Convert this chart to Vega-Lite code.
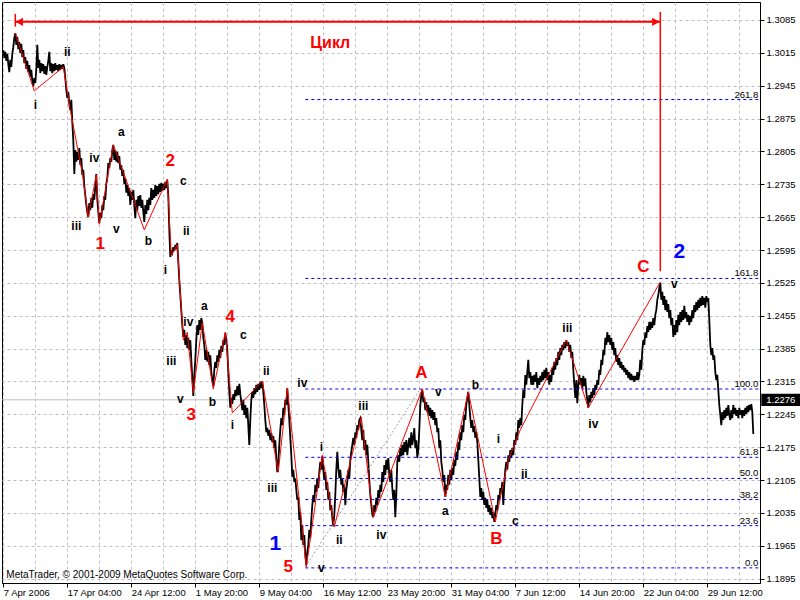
{
"$schema":"https://vega.github.io/schema/vega-lite/v6.json",
"width":758,"height":581,
"autosize":{"type":"none"},
"padding":{"left":2,"top":2,"right":40,"bottom":17},
"background":"white",
"config":{"view":{"stroke":"black","strokeWidth":1}},
"datasets":{
"price":[
{"i":0,"p":1.3021},{"i":1,"p":1.3004},{"i":2,"p":1.3017},{"i":3,"p":1.2998},{"i":4,"p":1.3013},{"i":5,"p":1.2991},{"i":6,"p":1.2974},{"i":7,"p":1.3000},{"i":8,"p":1.2985},{"i":9,"p":1.3013},
{"i":10,"p":1.3027},{"i":11,"p":1.3047},{"i":12,"p":1.3057},{"i":13,"p":1.3032},{"i":14,"p":1.3049},{"i":15,"p":1.3023},{"i":16,"p":1.3038},{"i":17,"p":1.3015},{"i":18,"p":1.3034},{"i":19,"p":1.3006},
{"i":20,"p":1.3021},{"i":21,"p":1.2993},{"i":22,"p":1.3006},{"i":23,"p":1.2981},{"i":24,"p":1.2998},{"i":25,"p":1.2974},{"i":26,"p":1.2989},{"i":27,"p":1.2964},{"i":28,"p":1.2979},{"i":29,"p":1.2955},
{"i":30,"p":1.2944},{"i":31,"p":1.2961},{"i":32,"p":1.2951},{"i":33,"p":1.2979},{"i":34,"p":1.3032},{"i":35,"p":1.2983},{"i":36,"p":1.3000},{"i":37,"p":1.2972},{"i":38,"p":1.2993},{"i":39,"p":1.2976},
{"i":40,"p":1.2991},{"i":41,"p":1.2970},{"i":42,"p":1.2987},{"i":43,"p":1.2968},{"i":44,"p":1.2985},{"i":45,"p":1.2998},{"i":46,"p":1.3017},{"i":47,"p":1.2976},{"i":48,"p":1.2993},{"i":49,"p":1.2972},
{"i":50,"p":1.2991},{"i":51,"p":1.2976},{"i":52,"p":1.2993},{"i":53,"p":1.2979},{"i":54,"p":1.2989},{"i":55,"p":1.2976},{"i":56,"p":1.2991},{"i":57,"p":1.2979},{"i":58,"p":1.2989},{"i":59,"p":1.2981},
{"i":60,"p":1.2991},{"i":61,"p":1.2983},{"i":62,"p":1.2961},{"i":63,"p":1.2936},{"i":64,"p":1.2919},{"i":65,"p":1.2932},{"i":66,"p":1.2906},{"i":67,"p":1.2893},{"i":68,"p":1.2915},{"i":69,"p":1.2868},
{"i":70,"p":1.2829},{"i":71,"p":1.2757},{"i":72,"p":1.2808},{"i":73,"p":1.2783},{"i":74,"p":1.2804},{"i":75,"p":1.2787},{"i":76,"p":1.2812},{"i":77,"p":1.2776},{"i":78,"p":1.2791},{"i":79,"p":1.2755},
{"i":80,"p":1.2766},{"i":81,"p":1.2731},{"i":82,"p":1.2712},{"i":83,"p":1.2691},{"i":84,"p":1.2676},{"i":85,"p":1.2665},{"i":86,"p":1.2695},{"i":87,"p":1.2680},{"i":88,"p":1.2706},{"i":89,"p":1.2685},
{"i":90,"p":1.2714},{"i":91,"p":1.2702},{"i":92,"p":1.2731},{"i":93,"p":1.2757},{"i":94,"p":1.2702},{"i":95,"p":1.2676},{"i":96,"p":1.2653},{"i":97,"p":1.2674},{"i":98,"p":1.2663},{"i":99,"p":1.2691},
{"i":100,"p":1.2680},{"i":101,"p":1.2710},{"i":102,"p":1.2702},{"i":103,"p":1.2736},{"i":104,"p":1.2748},{"i":105,"p":1.2780},{"i":106,"p":1.2770},{"i":107,"p":1.2791},{"i":108,"p":1.2783},{"i":109,"p":1.2808},
{"i":110,"p":1.2819},{"i":111,"p":1.2787},{"i":112,"p":1.2808},{"i":113,"p":1.2783},{"i":114,"p":1.2804},{"i":115,"p":1.2780},{"i":116,"p":1.2795},{"i":117,"p":1.2766},{"i":118,"p":1.2776},{"i":119,"p":1.2753},
{"i":120,"p":1.2766},{"i":121,"p":1.2736},{"i":122,"p":1.2748},{"i":123,"p":1.2717},{"i":124,"p":1.2734},{"i":125,"p":1.2710},{"i":126,"p":1.2727},{"i":127,"p":1.2691},{"i":128,"p":1.2719},{"i":129,"p":1.2702},
{"i":130,"p":1.2723},{"i":131,"p":1.2689},{"i":132,"p":1.2663},{"i":133,"p":1.2702},{"i":134,"p":1.2680},{"i":135,"p":1.2710},{"i":136,"p":1.2689},{"i":137,"p":1.2712},{"i":138,"p":1.2685},{"i":139,"p":1.2702},
{"i":140,"p":1.2676},{"i":141,"p":1.2655},{"i":142,"p":1.2691},{"i":143,"p":1.2672},{"i":144,"p":1.2702},{"i":145,"p":1.2680},{"i":146,"p":1.2706},{"i":147,"p":1.2691},{"i":148,"p":1.2727},{"i":149,"p":1.2702},
{"i":150,"p":1.2723},{"i":151,"p":1.2706},{"i":152,"p":1.2734},{"i":153,"p":1.2710},{"i":154,"p":1.2731},{"i":155,"p":1.2714},{"i":156,"p":1.2736},{"i":157,"p":1.2719},{"i":158,"p":1.2738},{"i":159,"p":1.2721},
{"i":160,"p":1.2736},{"i":161,"p":1.2723},{"i":162,"p":1.2740},{"i":163,"p":1.2727},{"i":164,"p":1.2744},{"i":165,"p":1.2712},{"i":166,"p":1.2638},{"i":167,"p":1.2580},{"i":168,"p":1.2595},{"i":169,"p":1.2589},
{"i":170,"p":1.2601},{"i":171,"p":1.2593},{"i":172,"p":1.2606},{"i":173,"p":1.2597},{"i":174,"p":1.2610},{"i":175,"p":1.2570},{"i":176,"p":1.2531},{"i":177,"p":1.2499},{"i":178,"p":1.2467},{"i":179,"p":1.2435},
{"i":180,"p":1.2410},{"i":181,"p":1.2425},{"i":182,"p":1.2393},{"i":183,"p":1.2414},{"i":184,"p":1.2386},{"i":185,"p":1.2408},{"i":186,"p":1.2382},{"i":187,"p":1.2403},{"i":188,"p":1.2361},{"i":189,"p":1.2322},
{"i":190,"p":1.2284},{"i":191,"p":1.2329},{"i":192,"p":1.2361},{"i":193,"p":1.2403},{"i":194,"p":1.2435},{"i":195,"p":1.2414},{"i":196,"p":1.2446},{"i":197,"p":1.2425},{"i":198,"p":1.2450},{"i":199,"p":1.2440},
{"i":200,"p":1.2408},{"i":201,"p":1.2393},{"i":202,"p":1.2361},{"i":203,"p":1.2382},{"i":204,"p":1.2357},{"i":205,"p":1.2378},{"i":206,"p":1.2350},{"i":207,"p":1.2371},{"i":208,"p":1.2335},{"i":209,"p":1.2318},
{"i":210,"p":1.2305},{"i":211,"p":1.2340},{"i":212,"p":1.2357},{"i":213,"p":1.2344},{"i":214,"p":1.2371},{"i":215,"p":1.2357},{"i":216,"p":1.2382},{"i":217,"p":1.2365},{"i":218,"p":1.2391},{"i":219,"p":1.2378},
{"i":220,"p":1.2403},{"i":221,"p":1.2393},{"i":222,"p":1.2418},{"i":223,"p":1.2403},{"i":224,"p":1.2382},{"i":225,"p":1.2335},{"i":226,"p":1.2293},{"i":227,"p":1.2259},{"i":228,"p":1.2280},{"i":229,"p":1.2267},
{"i":230,"p":1.2288},{"i":231,"p":1.2276},{"i":232,"p":1.2297},{"i":233,"p":1.2284},{"i":234,"p":1.2305},{"i":235,"p":1.2286},{"i":236,"p":1.2310},{"i":237,"p":1.2288},{"i":239,"p":1.2254},
{"i":240,"p":1.2276},{"i":241,"p":1.2244},{"i":242,"p":1.2265},{"i":243,"p":1.2237},{"i":244,"p":1.2259},{"i":245,"p":1.2222},{"i":246,"p":1.2180},{"i":247,"p":1.2233},{"i":248,"p":1.2276},{"i":249,"p":1.2293},
{"i":250,"p":1.2280},{"i":251,"p":1.2301},{"i":252,"p":1.2288},{"i":253,"p":1.2308},{"i":254,"p":1.2293},{"i":255,"p":1.2310},{"i":256,"p":1.2297},{"i":257,"p":1.2314},{"i":258,"p":1.2301},{"i":259,"p":1.2316},
{"i":260,"p":1.2293},{"i":261,"p":1.2265},{"i":262,"p":1.2233},{"i":263,"p":1.2207},{"i":264,"p":1.2216},{"i":265,"p":1.2199},{"i":266,"p":1.2212},{"i":267,"p":1.2190},{"i":268,"p":1.2205},{"i":269,"p":1.2186},
{"i":270,"p":1.2199},{"i":271,"p":1.2173},{"i":272,"p":1.2190},{"i":273,"p":1.2152},{"i":274,"p":1.2122},{"i":275,"p":1.2144},{"i":276,"p":1.2180},{"i":277,"p":1.2212},{"i":278,"p":1.2237},{"i":279,"p":1.2222},
{"i":280,"p":1.2259},{"i":281,"p":1.2244},{"i":282,"p":1.2276},{"i":283,"p":1.2265},{"i":284,"p":1.2301},{"i":285,"p":1.2265},{"i":286,"p":1.2233},{"i":287,"p":1.2195},{"i":288,"p":1.2158},{"i":289,"p":1.2112},
{"i":290,"p":1.2127},{"i":291,"p":1.2101},{"i":292,"p":1.2109},{"i":293,"p":1.2084},{"i":294,"p":1.2063},{"i":295,"p":1.2069},{"i":296,"p":1.2020},{"i":297,"p":1.2037},{"i":298,"p":1.1977},{"i":299,"p":1.2009},
{"i":300,"p":1.1967},{"i":301,"p":1.1988},{"i":302,"p":1.1945},{"i":303,"p":1.1924},{"i":304,"p":1.1952},{"i":305,"p":1.1967},{"i":306,"p":1.1999},{"i":307,"p":1.1982},{"i":308,"p":1.2020},{"i":309,"p":1.2052},
{"i":310,"p":1.2073},{"i":311,"p":1.2058},{"i":312,"p":1.2095},{"i":313,"p":1.2080},{"i":314,"p":1.2109},{"i":315,"p":1.2088},{"i":316,"p":1.2122},{"i":317,"p":1.2144},{"i":318,"p":1.2127},{"i":319,"p":1.2156},
{"i":320,"p":1.2127},{"i":321,"p":1.2105},{"i":322,"p":1.2122},{"i":323,"p":1.2084},{"i":324,"p":1.2101},{"i":325,"p":1.2063},{"i":326,"p":1.2080},{"i":327,"p":1.2041},{"i":328,"p":1.2052},{"i":329,"p":1.2024},
{"i":330,"p":1.2007},{"i":331,"p":1.2031},{"i":332,"p":1.2073},{"i":333,"p":1.2127},{"i":334,"p":1.2165},{"i":335,"p":1.2131},{"i":336,"p":1.2109},{"i":337,"p":1.2127},{"i":338,"p":1.2095},{"i":339,"p":1.2109},
{"i":340,"p":1.2080},{"i":341,"p":1.2095},{"i":342,"p":1.2052},{"i":343,"p":1.2084},{"i":344,"p":1.2101},{"i":345,"p":1.2127},{"i":346,"p":1.2109},{"i":347,"p":1.2148},{"i":348,"p":1.2165},{"i":349,"p":1.2180},
{"i":350,"p":1.2195},{"i":351,"p":1.2180},{"i":352,"p":1.2207},{"i":353,"p":1.2195},{"i":354,"p":1.2222},{"i":355,"p":1.2212},{"i":356,"p":1.2233},{"i":357,"p":1.2237},{"i":358,"p":1.2212},{"i":359,"p":1.2190},
{"i":360,"p":1.2212},{"i":361,"p":1.2169},{"i":362,"p":1.2190},{"i":363,"p":1.2158},{"i":364,"p":1.2180},{"i":365,"p":1.2144},{"i":366,"p":1.2105},{"i":367,"p":1.2073},{"i":368,"p":1.2052},{"i":369,"p":1.2031},
{"i":370,"p":1.2026},{"i":371,"p":1.2052},{"i":372,"p":1.2037},{"i":373,"p":1.2067},{"i":374,"p":1.2052},{"i":375,"p":1.2084},{"i":376,"p":1.2067},{"i":377,"p":1.2095},{"i":378,"p":1.2080},{"i":379,"p":1.2122},
{"i":380,"p":1.2101},{"i":381,"p":1.2137},{"i":382,"p":1.2116},{"i":383,"p":1.2148},{"i":384,"p":1.2127},{"i":385,"p":1.2152},{"i":386,"p":1.2116},{"i":387,"p":1.2101},{"i":388,"p":1.2127},{"i":389,"p":1.2088},
{"i":390,"p":1.2063},{"i":391,"p":1.2084},{"i":392,"p":1.2026},{"i":393,"p":1.2073},{"i":394,"p":1.2144},{"i":395,"p":1.2158},{"i":396,"p":1.2144},{"i":397,"p":1.2173},{"i":398,"p":1.2156},{"i":399,"p":1.2180},
{"i":400,"p":1.2158},{"i":401,"p":1.2186},{"i":402,"p":1.2165},{"i":403,"p":1.2190},{"i":404,"p":1.2158},{"i":405,"p":1.2180},{"i":406,"p":1.2195},{"i":407,"p":1.2173},{"i":408,"p":1.2207},{"i":409,"p":1.2180},
{"i":410,"p":1.2195},{"i":411,"p":1.2216},{"i":412,"p":1.2173},{"i":413,"p":1.2190},{"i":414,"p":1.2152},{"i":415,"p":1.2169},{"i":416,"p":1.2212},{"i":417,"p":1.2265},{"i":418,"p":1.2286},{"i":419,"p":1.2297},
{"i":420,"p":1.2271},{"i":421,"p":1.2280},{"i":422,"p":1.2254},{"i":423,"p":1.2271},{"i":424,"p":1.2250},{"i":425,"p":1.2265},{"i":426,"p":1.2242},{"i":427,"p":1.2259},{"i":428,"p":1.2237},{"i":429,"p":1.2254},
{"i":430,"p":1.2233},{"i":431,"p":1.2250},{"i":432,"p":1.2222},{"i":433,"p":1.2237},{"i":434,"p":1.2207},{"i":435,"p":1.2216},{"i":436,"p":1.2173},{"i":437,"p":1.2190},{"i":438,"p":1.2144},{"i":439,"p":1.2127},
{"i":440,"p":1.2101},{"i":441,"p":1.2116},{"i":442,"p":1.2069},{"i":443,"p":1.2095},{"i":444,"p":1.2084},{"i":445,"p":1.2116},{"i":446,"p":1.2095},{"i":447,"p":1.2127},{"i":448,"p":1.2105},{"i":449,"p":1.2131},
{"i":450,"p":1.2116},{"i":451,"p":1.2148},{"i":452,"p":1.2135},{"i":453,"p":1.2165},{"i":454,"p":1.2148},{"i":455,"p":1.2186},{"i":456,"p":1.2169},{"i":457,"p":1.2207},{"i":458,"p":1.2190},{"i":459,"p":1.2222},
{"i":460,"p":1.2207},{"i":461,"p":1.2244},{"i":462,"p":1.2233},{"i":463,"p":1.2265},{"i":464,"p":1.2280},{"i":465,"p":1.2293},{"i":466,"p":1.2265},{"i":467,"p":1.2237},{"i":468,"p":1.2216},{"i":469,"p":1.2233},
{"i":470,"p":1.2207},{"i":471,"p":1.2220},{"i":472,"p":1.2195},{"i":473,"p":1.2207},{"i":474,"p":1.2186},{"i":475,"p":1.2148},{"i":476,"p":1.2109},{"i":477,"p":1.2069},{"i":478,"p":1.2088},{"i":479,"p":1.2063},
{"i":480,"p":1.2080},{"i":481,"p":1.2052},{"i":482,"p":1.2067},{"i":483,"p":1.2046},{"i":484,"p":1.2063},{"i":485,"p":1.2037},{"i":486,"p":1.2052},{"i":487,"p":1.2031},{"i":488,"p":1.2046},{"i":489,"p":1.2024},
{"i":490,"p":1.2037},{"i":491,"p":1.2016},{"i":492,"p":1.2031},{"i":493,"p":1.2052},{"i":494,"p":1.2041},{"i":495,"p":1.2073},{"i":496,"p":1.2063},{"i":497,"p":1.2088},{"i":498,"p":1.2080},{"i":499,"p":1.2101},
{"i":500,"p":1.2052},{"i":501,"p":1.2095},{"i":502,"p":1.2127},{"i":503,"p":1.2144},{"i":504,"p":1.2127},{"i":505,"p":1.2158},{"i":506,"p":1.2144},{"i":507,"p":1.2169},{"i":508,"p":1.2152},{"i":509,"p":1.2173},
{"i":510,"p":1.2158},{"i":511,"p":1.2190},{"i":512,"p":1.2180},{"i":513,"p":1.2207},{"i":514,"p":1.2190},{"i":515,"p":1.2233},{"i":516,"p":1.2216},{"i":517,"p":1.2237},{"i":518,"p":1.2222},{"i":519,"p":1.2265},
{"i":520,"p":1.2297},{"i":521,"p":1.2280},{"i":522,"p":1.2329},{"i":523,"p":1.2308},{"i":524,"p":1.2335},{"i":525,"p":1.2361},{"i":526,"p":1.2322},{"i":527,"p":1.2335},{"i":528,"p":1.2308},{"i":529,"p":1.2327},
{"i":530,"p":1.2308},{"i":531,"p":1.2329},{"i":532,"p":1.2314},{"i":533,"p":1.2335},{"i":534,"p":1.2301},{"i":535,"p":1.2322},{"i":536,"p":1.2308},{"i":537,"p":1.2327},{"i":538,"p":1.2314},{"i":539,"p":1.2335},
{"i":540,"p":1.2318},{"i":541,"p":1.2340},{"i":542,"p":1.2322},{"i":543,"p":1.2344},{"i":544,"p":1.2318},{"i":545,"p":1.2335},{"i":546,"p":1.2308},{"i":547,"p":1.2329},{"i":548,"p":1.2314},{"i":549,"p":1.2344},
{"i":550,"p":1.2329},{"i":551,"p":1.2357},{"i":552,"p":1.2340},{"i":553,"p":1.2365},{"i":554,"p":1.2350},{"i":555,"p":1.2378},{"i":556,"p":1.2361},{"i":557,"p":1.2386},{"i":558,"p":1.2371},{"i":559,"p":1.2393},
{"i":560,"p":1.2382},{"i":561,"p":1.2399},{"i":562,"p":1.2386},{"i":563,"p":1.2403},{"i":564,"p":1.2391},{"i":565,"p":1.2399},{"i":566,"p":1.2378},{"i":567,"p":1.2393},{"i":568,"p":1.2365},{"i":569,"p":1.2378},
{"i":570,"p":1.2340},{"i":571,"p":1.2308},{"i":572,"p":1.2280},{"i":573,"p":1.2318},{"i":574,"p":1.2269},{"i":575,"p":1.2308},{"i":576,"p":1.2329},{"i":577,"p":1.2308},{"i":578,"p":1.2322},{"i":579,"p":1.2301},
{"i":580,"p":1.2327},{"i":581,"p":1.2305},{"i":582,"p":1.2322},{"i":583,"p":1.2293},{"i":584,"p":1.2276},{"i":585,"p":1.2259},{"i":586,"p":1.2286},{"i":587,"p":1.2271},{"i":588,"p":1.2293},{"i":589,"p":1.2280},
{"i":590,"p":1.2301},{"i":591,"p":1.2286},{"i":592,"p":1.2308},{"i":593,"p":1.2297},{"i":594,"p":1.2318},{"i":595,"p":1.2308},{"i":596,"p":1.2340},{"i":597,"p":1.2329},{"i":598,"p":1.2361},{"i":599,"p":1.2350},
{"i":600,"p":1.2382},{"i":601,"p":1.2371},{"i":602,"p":1.2408},{"i":603,"p":1.2393},{"i":604,"p":1.2420},{"i":605,"p":1.2399},{"i":606,"p":1.2414},{"i":607,"p":1.2393},{"i":608,"p":1.2408},{"i":609,"p":1.2382},
{"i":610,"p":1.2399},{"i":611,"p":1.2371},{"i":612,"p":1.2386},{"i":613,"p":1.2357},{"i":614,"p":1.2371},{"i":615,"p":1.2350},{"i":616,"p":1.2365},{"i":617,"p":1.2344},{"i":618,"p":1.2357},{"i":619,"p":1.2340},
{"i":620,"p":1.2350},{"i":621,"p":1.2335},{"i":622,"p":1.2344},{"i":623,"p":1.2329},{"i":624,"p":1.2340},{"i":625,"p":1.2322},{"i":626,"p":1.2335},{"i":627,"p":1.2318},{"i":628,"p":1.2331},{"i":629,"p":1.2318},
{"i":630,"p":1.2327},{"i":631,"p":1.2314},{"i":632,"p":1.2327},{"i":633,"p":1.2318},{"i":634,"p":1.2335},{"i":635,"p":1.2318},{"i":636,"p":1.2329},{"i":637,"p":1.2361},{"i":638,"p":1.2340},{"i":639,"p":1.2382},
{"i":640,"p":1.2403},{"i":641,"p":1.2393},{"i":642,"p":1.2420},{"i":643,"p":1.2408},{"i":644,"p":1.2433},{"i":645,"p":1.2420},{"i":646,"p":1.2442},{"i":647,"p":1.2425},{"i":648,"p":1.2442},{"i":649,"p":1.2429},
{"i":650,"p":1.2450},{"i":651,"p":1.2435},{"i":652,"p":1.2457},{"i":653,"p":1.2467},{"i":654,"p":1.2489},{"i":655,"p":1.2499},{"i":656,"p":1.2514},{"i":657,"p":1.2525},{"i":658,"p":1.2489},{"i":659,"p":1.2506},
{"i":660,"p":1.2478},{"i":661,"p":1.2497},{"i":662,"p":1.2467},{"i":663,"p":1.2489},{"i":664,"p":1.2463},{"i":665,"p":1.2480},{"i":666,"p":1.2450},{"i":667,"p":1.2467},{"i":668,"p":1.2435},{"i":669,"p":1.2450},
{"i":670,"p":1.2410},{"i":671,"p":1.2435},{"i":672,"p":1.2414},{"i":673,"p":1.2446},{"i":674,"p":1.2420},{"i":675,"p":1.2457},{"i":676,"p":1.2435},{"i":677,"p":1.2463},{"i":678,"p":1.2442},{"i":679,"p":1.2467},
{"i":680,"p":1.2446},{"i":681,"p":1.2476},{"i":682,"p":1.2450},{"i":683,"p":1.2463},{"i":684,"p":1.2442},{"i":685,"p":1.2457},{"i":686,"p":1.2435},{"i":687,"p":1.2455},{"i":688,"p":1.2442},{"i":689,"p":1.2467},
{"i":690,"p":1.2450},{"i":691,"p":1.2478},{"i":692,"p":1.2463},{"i":693,"p":1.2484},{"i":694,"p":1.2467},{"i":695,"p":1.2489},{"i":696,"p":1.2472},{"i":697,"p":1.2493},{"i":698,"p":1.2476},{"i":699,"p":1.2497},
{"i":700,"p":1.2478},{"i":701,"p":1.2493},{"i":702,"p":1.2472},{"i":703,"p":1.2497},{"i":704,"p":1.2484},{"i":705,"p":1.2493},{"i":706,"p":1.2446},{"i":707,"p":1.2393},{"i":708,"p":1.2371},{"i":709,"p":1.2386},
{"i":710,"p":1.2361},{"i":711,"p":1.2371},{"i":712,"p":1.2335},{"i":713,"p":1.2318},{"i":714,"p":1.2329},{"i":715,"p":1.2297},{"i":716,"p":1.2265},{"i":717,"p":1.2244},{"i":718,"p":1.2222},{"i":719,"p":1.2250},
{"i":720,"p":1.2233},{"i":721,"p":1.2254},{"i":722,"p":1.2237},{"i":723,"p":1.2259},{"i":724,"p":1.2242},{"i":725,"p":1.2265},{"i":726,"p":1.2244},{"i":727,"p":1.2233},{"i":728,"p":1.2254},{"i":729,"p":1.2237},
{"i":730,"p":1.2265},{"i":731,"p":1.2246},{"i":732,"p":1.2259},{"i":733,"p":1.2242},{"i":734,"p":1.2254},{"i":735,"p":1.2237},{"i":736,"p":1.2259},{"i":737,"p":1.2244},{"i":738,"p":1.2254},{"i":739,"p":1.2237},
{"i":740,"p":1.2254},{"i":741,"p":1.2242},{"i":742,"p":1.2259},{"i":743,"p":1.2246},{"i":744,"p":1.2263},{"i":745,"p":1.2250},{"i":746,"p":1.2265},{"i":747,"p":1.2254},{"i":748,"p":1.2267},{"i":749,"p":1.2250},
{"i":750,"p":1.2203}
],
"waves":[
{"i":12,"p":1.3057},{"i":31,"p":1.2934},{"i":60,"p":1.2985},{"i":67,"p":1.2893},{"i":79,"p":1.2759},{"i":85,"p":1.2665},{"i":93,"p":1.2755},{"i":96,"p":1.2650},{"i":110,"p":1.2819},{"i":141,"p":1.2638},{"i":164,"p":1.2746},{"i":168,"p":1.2584},{"i":174,"p":1.2606},{"i":180,"p":1.2403},{"i":184,"p":1.2420},{"i":190,"p":1.2291},{"i":199,"p":1.2440},{"i":210,"p":1.2299},{"i":222,"p":1.2420},{"i":229,"p":1.2248},{"i":259,"p":1.2316},{"i":275,"p":1.2122},{"i":284,"p":1.2301},{"i":303,"p":1.1920},{"i":319,"p":1.2158},{"i":331,"p":1.2005},{"i":358,"p":1.2239},{"i":370,"p":1.2026},{"i":419,"p":1.2299},{"i":442,"p":1.2069},{"i":465,"p":1.2293},{"i":492,"p":1.2016},{"i":505,"p":1.2148},{"i":517,"p":1.2212},{"i":563,"p":1.2403},{"i":585,"p":1.2259},{"i":657,"p":1.2527}
],
"trend":[{"i":302,"p":1.1920},{"i":417,"p":1.2299}],
"fib":[
{"i":302,"i2":755,"p":1.29155,"t":"261.8"},{"i":302,"i2":755,"p":1.25345,"t":"161.8"},{"i":302,"i2":755,"p":1.2299,"t":"100.0"},{"i":302,"i2":755,"p":1.21535,"t":"61.8"},{"i":302,"i2":755,"p":1.21085,"t":"50.0"},{"i":302,"i2":755,"p":1.20635,"t":"38.2"},{"i":302,"i2":755,"p":1.2008,"t":"23.6"},{"i":302,"i2":755,"p":1.1918,"t":"0.0"}
],
"lblBlack":[
{"i":32,"p":1.2904,"t":"i"},{"i":64,"p":1.3017,"t":"ii"},{"i":73,"p":1.2646,"t":"iii"},{"i":91,"p":1.2791,"t":"iv"},{"i":113,"p":1.2640,"t":"v"},{"i":118,"p":1.2846,"t":"a"},{"i":145,"p":1.2614,"t":"b"},{"i":180,"p":1.2742,"t":"c"},{"i":183,"p":1.2636,"t":"ii"},{"i":162,"p":1.2552,"t":"i"},
{"i":201,"p":1.2476,"t":"a"},{"i":185,"p":1.2442,"t":"iv"},{"i":168,"p":1.2359,"t":"iii"},{"i":177,"p":1.2278,"t":"v"},{"i":209,"p":1.2271,"t":"b"},{"i":240,"p":1.2414,"t":"c"},{"i":229,"p":1.2222,"t":"i"},{"i":263,"p":1.2337,"t":"ii"},{"i":269,"p":1.2088,"t":"iii"},{"i":299,"p":1.2312,"t":"iv"},
{"i":318,"p":1.1918,"t":"v"},{"i":318,"p":1.2175,"t":"i"},{"i":360,"p":1.2263,"t":"iii"},{"i":336,"p":1.1977,"t":"ii"},{"i":378,"p":1.1988,"t":"iv"},{"i":435,"p":1.2293,"t":"v"},{"i":472,"p":1.2308,"t":"b"},{"i":442,"p":1.2039,"t":"a"},{"i":512,"p":1.2018,"t":"c"},{"i":495,"p":1.2193,"t":"i"},
{"i":521,"p":1.2118,"t":"ii"},{"i":564,"p":1.2429,"t":"iii"},{"i":590,"p":1.2224,"t":"iv"},{"i":671,"p":1.2523,"t":"v"}
],
"lblRed":[
{"i":97,"p":1.2608,"t":"1"},{"i":167,"p":1.2785,"t":"2"},{"i":188,"p":1.2244,"t":"3"},{"i":227,"p":1.2452,"t":"4"},{"i":285,"p":1.1920,"t":"5"},{"i":418,"p":1.2333,"t":"A"},{"i":493,"p":1.1980,"t":"B"},{"i":640,"p":1.2559,"t":"C"}
],
"lblBlue":[{"i":272,"p":1.1969,"t":"1"},{"i":676,"p":1.2591,"t":"2"}],
"cycle":[{"i":327,"p":1.3036,"t":"Цикл"}],
"copy":[{"i":3,"p":1.1903,"t":"MetaTrader, © 2001-2009 MetaQuotes Software Corp."}],
"arrowLine":[{"i":12,"i2":657,"p":1.3081}],
"arrowTick":[{"i":12,"p":1.3098,"p2":1.3071}],
"arrowHeads":[{"i":16,"p":1.3081,"d":"l"},{"i":652.5,"p":1.3081,"d":"r"}],
"cycleEnd":[{"i":657,"p":1.3102,"p2":1.2550}],
"current":[{"p":1.2276}],
"curBox":[{"i":758,"i2":797,"p":1.2263,"p2":1.2289}],
"curText":[{"i":763,"p":1.2276,"t":"1.2276"}]
},
"layer":[
{"data":{"name":"current"},"mark":{"type":"rule","stroke":"#c0c0c0","strokeWidth":1},
 "encoding":{"y":{"field":"p","type":"quantitative","scale":{"domain":[1.18858,1.31233],"nice":false,"zero":false},
  "axis":{"orient":"right","values":[1.1895,1.1965,1.2035,1.2105,1.2175,1.2245,1.2315,1.2385,1.2455,1.2525,1.2595,1.2665,1.2735,1.2805,1.2875,1.2945,1.3015,1.3085],"format":".4f","grid":true,"gridDash":[3,3],"gridColor":"#c0c0c0","gridOpacity":1,"tickSize":4,"tickColor":"black","domainColor":"black","labelFont":"Liberation Sans","labelFontSize":9.5,"labelColor":"black","labelPadding":2,"labelBaseline":"middle","labelFlush":false,"labelOverlap":false,"title":null}}}},
{"data":{"name":"price"},"mark":{"type":"line","stroke":"black","strokeWidth":1.8},
 "encoding":{"x":{"field":"i","type":"quantitative","scale":{"domain":[-1.3,756.7],"nice":false,"zero":false},
  "axis":{"orient":"bottom","values":[0,32,64,96,128,160,192,224,256,288,320,352,384,416,448,480,512,544,576,608,640,672,704,736],"grid":true,"gridDash":[3,3],"gridColor":"#c0c0c0","gridOpacity":1,"labels":false,"ticks":false,"domain":false,"title":null}},
  "y":{"field":"p","type":"quantitative","scale":{"domain":[1.18858,1.31233],"nice":false,"zero":false},"axis":null}}},
{"data":{"name":"trend"},"mark":{"type":"line","stroke":"#a0a0a0","strokeWidth":1,"strokeDash":[2,2]},
 "encoding":{"x":{"field":"i","type":"quantitative","axis":null},"y":{"field":"p","type":"quantitative","axis":null}}},
{"data":{"name":"fib"},"mark":{"type":"rule","stroke":"#0000ff","strokeWidth":1,"strokeDash":[3,3]},
 "encoding":{"x":{"field":"i","type":"quantitative","scale":{"domain":[-1.3,756.7],"nice":false,"zero":false},
  "axis":{"orient":"bottom","values":[0,64,128,192,256,320,384,448,512,576,640,704],"labelExpr":"['7 Apr 2006','17 Apr 04:00','24 Apr 12:00','1 May 20:00','9 May 04:00','16 May 12:00','23 May 20:00','31 May 04:00','7 Jun 12:00','14 Jun 20:00','22 Jun 04:00','29 Jun 12:00'][round(datum.value/64)]","grid":false,"tickSize":4,"tickColor":"black","domainColor":"black","labelAlign":"left","labelBaseline":"middle","labelPadding":5,"labelFont":"Liberation Sans","labelFontSize":9.5,"labelColor":"black","labelFlush":false,"labelOverlap":false,"labelBound":false,"title":null}},
  "x2":{"field":"i2"},"y":{"field":"p","type":"quantitative","axis":null}}},
{"data":{"name":"fib"},"mark":{"type":"text","align":"right","baseline":"alphabetic","dy":-2,"font":"Liberation Sans","fontSize":9.5,"fill":"black"},
 "encoding":{"x":{"field":"i2","type":"quantitative","axis":null},"y":{"field":"p","type":"quantitative","axis":null},"text":{"field":"t"}}},
{"data":{"name":"waves"},"mark":{"type":"line","stroke":"#ff0000","strokeWidth":1},
 "encoding":{"x":{"field":"i","type":"quantitative","axis":null},"y":{"field":"p","type":"quantitative","axis":null}}},
{"data":{"name":"arrowLine"},"mark":{"type":"rule","stroke":"#ff0000","strokeWidth":2},
 "encoding":{"x":{"field":"i","type":"quantitative","axis":null},"x2":{"field":"i2"},"y":{"field":"p","type":"quantitative","axis":null}}},
{"data":{"name":"arrowTick"},"mark":{"type":"rule","stroke":"#ff0000","strokeWidth":1.5},
 "encoding":{"x":{"field":"i","type":"quantitative","axis":null},"y":{"field":"p","type":"quantitative","axis":null},"y2":{"field":"p2"}}},
{"data":{"name":"cycleEnd"},"mark":{"type":"rule","stroke":"#ff0000","strokeWidth":1.5},
 "encoding":{"x":{"field":"i","type":"quantitative","axis":null},"y":{"field":"p","type":"quantitative","axis":null},"y2":{"field":"p2"}}},
{"data":{"name":"arrowHeads"},"mark":{"type":"point","filled":true,"fill":"#ff0000","opacity":1,"size":70},
 "encoding":{"x":{"field":"i","type":"quantitative","axis":null},"y":{"field":"p","type":"quantitative","axis":null},
  "shape":{"field":"d","type":"nominal","scale":{"domain":["l","r"],"range":["triangle-left","triangle-right"]},"legend":null}}},
{"data":{"name":"lblBlack"},"mark":{"type":"text","font":"Liberation Sans","fontWeight":"bold","fontSize":12,"fill":"black","align":"center","baseline":"middle"},
 "encoding":{"x":{"field":"i","type":"quantitative","axis":null},"y":{"field":"p","type":"quantitative","axis":null},"text":{"field":"t"}}},
{"data":{"name":"lblRed"},"mark":{"type":"text","font":"Liberation Sans","fontWeight":"bold","fontSize":17,"fill":"#ff0000","align":"center","baseline":"middle"},
 "encoding":{"x":{"field":"i","type":"quantitative","axis":null},"y":{"field":"p","type":"quantitative","axis":null},"text":{"field":"t"}}},
{"data":{"name":"lblBlue"},"mark":{"type":"text","font":"Liberation Sans","fontWeight":"bold","fontSize":21,"fill":"#0000ff","align":"center","baseline":"middle"},
 "encoding":{"x":{"field":"i","type":"quantitative","axis":null},"y":{"field":"p","type":"quantitative","axis":null},"text":{"field":"t"}}},
{"data":{"name":"cycle"},"mark":{"type":"text","font":"Liberation Sans","fontWeight":"bold","fontSize":16,"fill":"#ff0000","align":"center","baseline":"middle"},
 "encoding":{"x":{"field":"i","type":"quantitative","axis":null},"y":{"field":"p","type":"quantitative","axis":null},"text":{"field":"t"}}},
{"data":{"name":"copy"},"mark":{"type":"text","font":"Liberation Sans","fontSize":10,"fill":"black","align":"left","baseline":"middle"},
 "encoding":{"x":{"field":"i","type":"quantitative","axis":null},"y":{"field":"p","type":"quantitative","axis":null},"text":{"field":"t"}}},
{"data":{"name":"curBox"},"mark":{"type":"rect","fill":"black","clip":false},
 "encoding":{"x":{"field":"i","type":"quantitative","axis":null},"x2":{"field":"i2"},"y":{"field":"p","type":"quantitative","axis":null},"y2":{"field":"p2"}}},
{"data":{"name":"curText"},"mark":{"type":"text","font":"Liberation Sans","fontSize":9.5,"fill":"white","align":"left","baseline":"middle"},
 "encoding":{"x":{"field":"i","type":"quantitative","axis":null},"y":{"field":"p","type":"quantitative","axis":null},"text":{"field":"t"}}}
],
"resolve":{"axis":{"x":"independent","y":"independent"}}
}
